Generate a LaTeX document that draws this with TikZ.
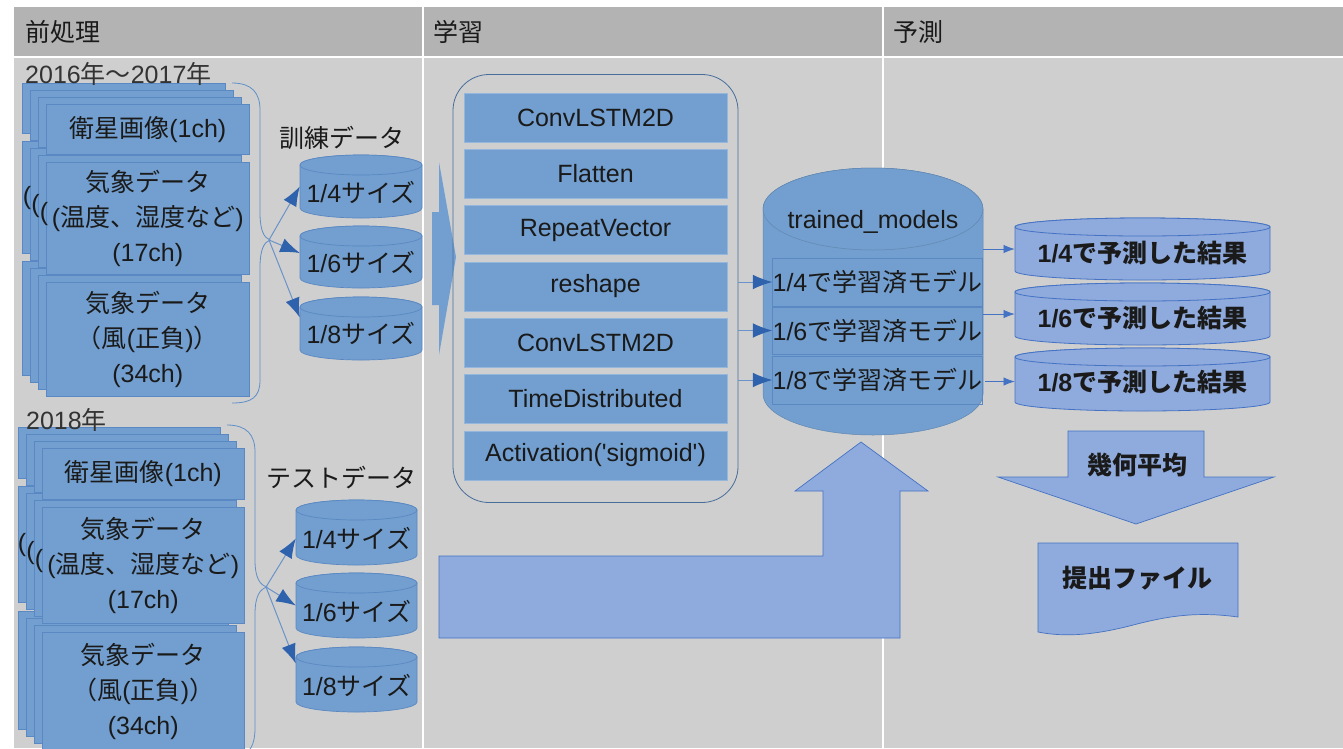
\documentclass[tikz,border=0pt]{standalone}
\usepackage{fontspec}
\setmainfont{Liberation Sans}
\newfontfamily\jp{Noto Sans CJK JP}
\usetikzlibrary{arrows.meta,calc}
\definecolor{hdr}{HTML}{B3B3B3}
\definecolor{bodyg}{HTML}{CFCFCF}
\definecolor{blu}{HTML}{729FCF}
\definecolor{blued}{HTML}{5A88C2}
\definecolor{lblu}{HTML}{8FAADC}
\definecolor{lblud}{HTML}{4472C4}
\definecolor{txt}{HTML}{1A1A1A}
\definecolor{arr}{HTML}{2F62AC}
\definecolor{arrl}{HTML}{6A93C9}
\definecolor{brc}{HTML}{5F8FC8}

% cylinder: name, cx, top, bottom, half width, ry, style, text, text dy
\newcommand\mycyl[9]{%
  \path[#7] ({#2-#5},{#3+#6}) -- ({#2-#5},{#4-#6})
     arc[start angle=180,end angle=360,x radius=#5pt,y radius=#6pt]
     -- ({#2+#5},{#3+#6})
     arc[start angle=0,end angle=180,x radius=#5pt,y radius=#6pt] -- cycle;
  \path[#7] (#2,{#3+#6}) ellipse[x radius=#5pt,y radius=#6pt];
  \node[inner sep=0pt,minimum width={2*#5pt},minimum height={(#4-#3)*1pt}] (#1) at (#2,{(#3+#4)/2}) {};
  \node[inner sep=0pt] (#1t) at (#2,{(#3+#4)/2+(#9)}) {#8};
}
% stacked boxes: name, x, y (front top-left), w, h, text
\newcommand\stk[6]{%
  \node[sbox,minimum width=#4pt,minimum height=#5pt] (#1a) at ({#2-24},{#3-21}) {};
  \node[sbox,minimum width=#4pt,minimum height=#5pt] (#1b) at ({#2-16},{#3-14}) {};
  \node[sbox,minimum width=#4pt,minimum height=#5pt] (#1c) at ({#2-8},{#3-7}) {};
  \node[sbox,minimum width=#4pt,minimum height=#5pt,align=center] (#1) at (#2,#3) {#6};
}

\begin{document}
\begin{tikzpicture}[x=1pt,y=-1pt,
  every node/.style={text=txt,font=\fontsize{25}{35}\selectfont},
  sbox/.style={rectangle,anchor=north west,fill=blu,draw=blued,line width=0.6pt,inner sep=0pt},
  lbox/.style={rectangle,fill=blu,draw=blu!75!white,line width=0.6pt,minimum width=263pt,minimum height=49pt,inner sep=0pt},
  mbox/.style={rectangle,draw=blued,line width=0.6pt,inner sep=0pt,minimum width=209pt},
  cylA/.style={fill=blu,draw=blued,line width=0.7pt},
  cylT/.style={fill=blu,draw=blu!85!black,line width=0.5pt},
  cylB/.style={fill=lblu,draw=lblud,line width=0.8pt},
  arrP/.style={draw=arrl,line width=1pt,-{Latex[scale=2.6,color=arr,fill=arr]}},
  arrA/.style={draw=arrl,line width=1pt,-{Latex[scale=2.6,color=arr,fill=arr]}},
  arrB/.style={draw=lblud,line width=0.8pt,-{Latex[scale=1.7,color=lblud,fill=lblud]}},
  bigarr/.style={fill=lblu,draw=lblud,line width=0.7pt},
  brace/.style={draw=brc,line width=0.8pt}]
\useasboundingbox (0,0) rectangle (1343,748);
\fill[white] (0,0) rectangle (1343,748);
% table
\fill[hdr] (14,7) rectangle (1343,57);
\fill[bodyg] (14,57) rectangle (1343,748);
\draw[white,line width=1.5pt] (14,57) -- (1343,57);
\draw[white,line width=1.5pt] (423,7) -- (423,748);
\draw[white,line width=1.5pt] (883,7) -- (883,748);
\node[anchor=west,inner sep=0pt] (h1) at (25,32) {\jp 前処理};
\node[anchor=west,inner sep=0pt] (h2) at (433,32) {\jp 学習};
\node[anchor=west,inner sep=0pt] (h3) at (893,32) {\jp 予測};

% ---------- preprocessing, 2016-2017
\stk{sc}{46}{282}{203}{114}{{\jp 気象データ}\\{\jp （風}({\jp 正負}){\jp ）}\\(34ch)}
\stk{sb}{46}{162}{203}{112}{{\jp 気象データ}\\({\jp 温度、湿度など})\\(17ch)}
\stk{sa}{46}{104}{203}{50}{{\jp 衛星画像}(1ch)}
\node[anchor=west,inner sep=0pt,text=black!80] (y1) at (25,74) {2016{\jp 年～}2017{\jp 年}};
\node[inner sep=0pt] (pa1) at (27,198) {(};
\node[inner sep=0pt] (pa2) at (35.5,206) {(};
\node[inner sep=0pt] (pa3) at (44,214) {(};
\draw[brace] (232,83) .. controls (252,83) and (260,93) .. (260,110) -- (260,213)
  .. controls (260,230) and (264,238) .. (270,240)
  .. controls (264,242) and (260,250) .. (260,267) -- (260,380)
  .. controls (260,397) and (252,403) .. (232,403);
\coordinate (bt1) at (269,240);
\node[inner sep=0pt] (trl) at (342,138) {\jp 訓練データ};
\mycyl{c1}{361}{155}{218}{61}{10}{cylA}{1/4{\jp サイズ}}{6}
\mycyl{c2}{361}{226}{288}{61}{10}{cylA}{1/6{\jp サイズ}}{5}
\mycyl{c3}{361}{297}{360}{61}{10}{cylA}{1/8{\jp サイズ}}{5}
\draw[arrP] (bt1) -- (c1.west);
\draw[arrP] (bt1) -- ($(c2.west)+(0,-4)$);
\draw[arrP] (bt1) -- ($(c3.west)+(0,-11)$);

% ---------- preprocessing, 2018
\stk{tc}{42}{632}{202}{118}{{\jp 気象データ}\\{\jp （風}({\jp 正負}){\jp ）}\\(34ch)}
\stk{tb}{42}{507}{202}{116}{{\jp 気象データ}\\({\jp 温度、湿度など})\\(17ch)}
\stk{ta}{42}{448}{202}{51}{{\jp 衛星画像}(1ch)}
\node[anchor=west,inner sep=0pt,text=black!80] (y2) at (26,420) {2018{\jp 年}};
\node[inner sep=0pt] (pb1) at (22,545) {(};
\node[inner sep=0pt] (pb2) at (30.5,553) {(};
\node[inner sep=0pt] (pb3) at (39,561) {(};
\draw[brace] (227,425) .. controls (247,425) and (255,435) .. (255,452) -- (255,560)
  .. controls (255,578) and (260,585) .. (267,587)
  .. controls (260,589) and (255,596) .. (255,614) -- (255,728)
  .. controls (255,745) and (250,752) .. (240,758);
\coordinate (bt2) at (266,587);
\node[inner sep=0pt] (tsl) at (341,478) {\jp テストデータ};
\mycyl{d1}{356.5}{500}{565}{60.5}{10}{cylA}{1/4{\jp サイズ}}{6}
\mycyl{d2}{356.5}{573}{638}{60.5}{10}{cylA}{1/6{\jp サイズ}}{6}
\mycyl{d3}{356.5}{647}{712}{60.5}{10}{cylA}{1/8{\jp サイズ}}{6}
\draw[arrP] (bt2) -- ($(d1.west)+(0,6)$);
\draw[arrP] (bt2) -- (d2.west);
\draw[arrP] (bt2) -- ($(d3.west)+(0,-16)$);

% ---------- learning
\path[fill=blu] (432,212) -- (439,212) -- (439,162) -- (456,257) -- (439,355) -- (439,305) -- (432,305) -- cycle;
\node[draw=blued!80!black,line width=0.8pt,rounded corners=36pt,minimum width=285pt,minimum height=428pt,inner sep=0pt] (lrn) at (595.5,288.5) {};
\node[lbox] (l1) at (595.5,117.5) {ConvLSTM2D};
\node[lbox] (l2) at (595.5,173.8) {Flatten};
\node[lbox] (l3) at (595.5,230.1) {RepeatVector};
\node[lbox] (l4) at (595.5,286.4) {reshape};
\node[lbox] (l5) at (595.5,342.7) {ConvLSTM2D};
\node[lbox] (l6) at (595.5,399.0) {TimeDistributed};
\node[lbox] (l7) at (595.5,455.3) {Activation(\textquotesingle sigmoid\textquotesingle)};

% big L arrow
\path[bigarr] (439,556) -- (823,556) -- (823,491) -- (795,491) -- (861,442) -- (928,491) -- (900,491) -- (900,638) -- (439,638) -- cycle;

% trained models
\mycyl{tm}{873}{168}{435}{110}{41}{cylT}{trained\_models}{-79.5}
\node[mbox,minimum height=48pt] (m1) at (877.5,282) {1/4{\jp で学習済モデル}};
\node[mbox,minimum height=47pt] (m2) at (877.5,330.5) {1/6{\jp で学習済モデル}};
\node[mbox,minimum height=48pt] (m3) at (877.5,380) {1/8{\jp で学習済モデル}};
\draw[arrA] (lrn.east |- m1.west) -- (m1.west);
\draw[arrA] (lrn.east |- m2.west) -- (m2.west);
\draw[arrA] (lrn.east |- m3.west) -- (m3.west);

% ---------- prediction
\mycyl{r1}{1142.5}{218}{280}{127.5}{9}{cylB}{{\bfseries 1/4{\jp で予測した結果}}}{4}
\mycyl{r2}{1142.5}{283}{345}{127.5}{9}{cylB}{{\bfseries 1/6{\jp で予測した結果}}}{4}
\mycyl{r3}{1142.5}{348}{411}{127.5}{9}{cylB}{{\bfseries 1/8{\jp で予測した結果}}}{3}
\draw[arrB] (tm.east |- r1.west) -- (r1.west);
\draw[arrB] (tm.east |- r2.west) -- (r2.west);
\draw[arrB] ($(tm.east |- r3.west)+(2,2)$) -- ($(r3.west)+(0,2)$);

\path[bigarr] (1068,431) -- (1204,431) -- (1204,477) -- (1274,477) -- (1136,524) -- (998,477) -- (1068,477) -- cycle;
\node[inner sep=0pt] (avg) at (1137,465) {\jp\bfseries 幾何平均};

\path[bigarr] (1038,543) -- (1238,543) -- (1238,617)
  .. controls (1195,611) and (1165,617) .. (1137,624)
  .. controls (1100,634) and (1068,638) .. (1038,632) -- cycle;
\node[inner sep=0pt] (sub) at (1137,578) {\jp\bfseries 提出ファイル};
\end{tikzpicture}
\end{document}
